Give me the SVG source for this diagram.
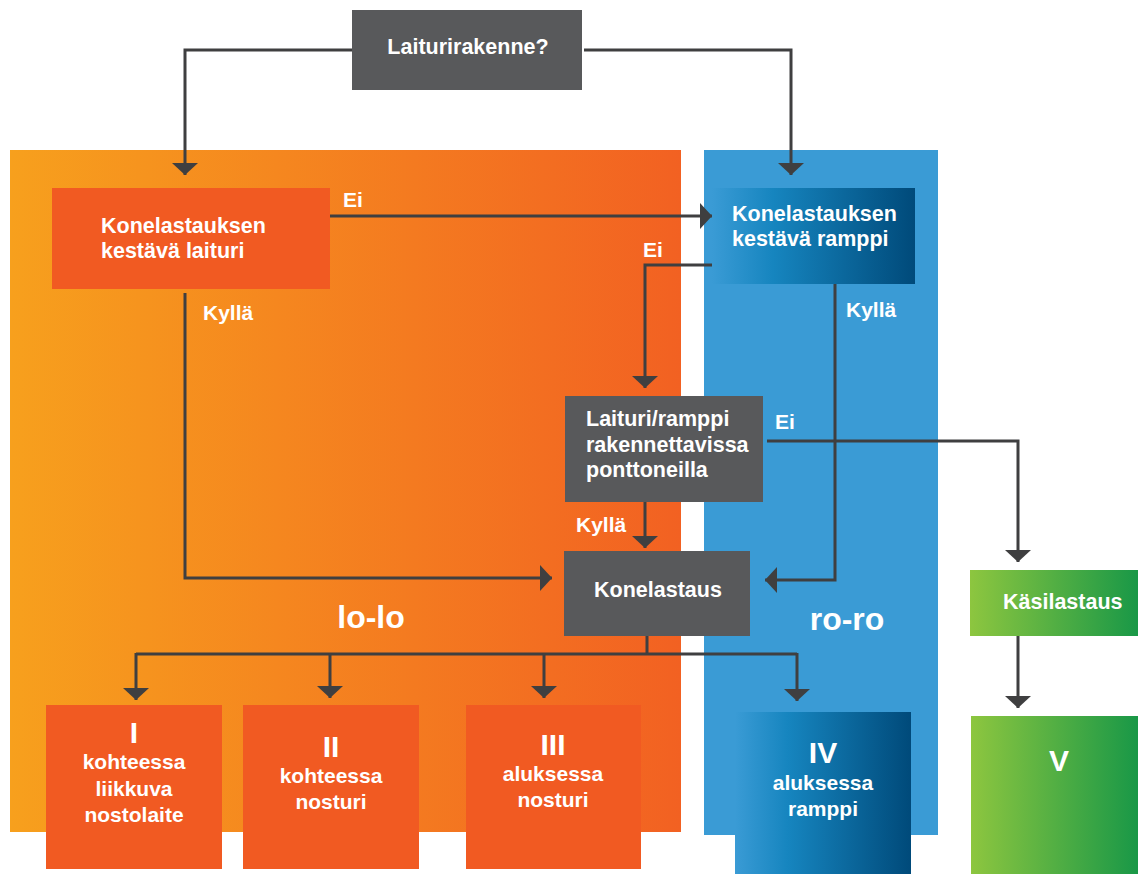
<svg xmlns="http://www.w3.org/2000/svg" width="1138" height="874" viewBox="0 0 1138 874">
<defs>
<linearGradient id="gOrange" x1="0" y1="0" x2="1" y2="0">
<stop offset="0" stop-color="#F7A01D"/>
<stop offset="1" stop-color="#F26122"/>
</linearGradient>
<linearGradient id="gBlue" x1="0" y1="0" x2="1" y2="0">
<stop offset="0" stop-color="#3A9BD5"/>
<stop offset="0.3" stop-color="#1685BF"/>
<stop offset="1" stop-color="#004A7A"/>
</linearGradient>
<linearGradient id="gGreen" x1="0" y1="0" x2="1" y2="0">
<stop offset="0" stop-color="#8DC63F"/>
<stop offset="1" stop-color="#199847"/>
</linearGradient>
<marker id="arr" viewBox="0 0 12 26" refX="12" refY="13" markerWidth="12" markerHeight="26" markerUnits="userSpaceOnUse" orient="auto">
<path d="M0,0 L12,13 L0,26 Z" fill="#3F3F40"/>
</marker>
<style>
.t{font-family:"Liberation Sans",Arial,sans-serif;font-weight:bold;fill:#FFFFFF;font-size:21px}
.n{font-size:21.5px}
.big{font-size:30px}
.zone{font-size:32px}
.c{text-anchor:middle}
.ln{fill:none;stroke:#3F3F40;stroke-width:3}
.gray{fill:#58595B}
.or{fill:#F15A22}
</style>
</defs>
<g id="zone-lolo">
<rect x="10" y="150" width="671" height="682" fill="url(#gOrange)"/>
<text class="t zone c" x="371" y="628">lo-lo</text>
</g>
<g id="zone-roro">
<rect x="704" y="150" width="234" height="685" fill="#3A9BD5"/>
<text class="t zone c" x="847" y="630">ro-ro</text>
</g>
<g id="connectors">
<path class="ln" d="M352,50 H185 V175" marker-end="url(#arr)"/>
<path class="ln" d="M584,50 H791 V175" marker-end="url(#arr)"/>
<path class="ln" d="M330,216 H712" marker-end="url(#arr)"/>
<path class="ln" d="M185,293 V578 H552" marker-end="url(#arr)"/>
<path class="ln" d="M719,265 H645 V388" marker-end="url(#arr)"/>
<path class="ln" d="M835,284 V580 H765" marker-end="url(#arr)"/>
<path class="ln" d="M767,441 H1018 V562" marker-end="url(#arr)"/>
<path class="ln" d="M645,502 V548" marker-end="url(#arr)"/>
<path class="ln" d="M647,636 V654"/>
<path class="ln" d="M136,654 H797"/>
<path class="ln" d="M136,653 V700" marker-end="url(#arr)"/>
<path class="ln" d="M330,653 V698" marker-end="url(#arr)"/>
<path class="ln" d="M544,653 V698" marker-end="url(#arr)"/>
<path class="ln" d="M797,653 V701" marker-end="url(#arr)"/>
<path class="ln" d="M1018,636 V708" marker-end="url(#arr)"/>
<text class="t" x="343" y="207">Ei</text>
<text class="t" x="203" y="320">Kyllä</text>
<text class="t" x="643" y="257">Ei</text>
<text class="t" x="846" y="317">Kyllä</text>
<text class="t" x="775" y="429">Ei</text>
<text class="t" x="576" y="532">Kyllä</text>
</g>
<g id="node-laiturirakenne">
<rect class="gray" x="352" y="10" width="230" height="80"/>
<text class="t n c" x="468" y="54">Laiturirakenne?</text>
</g>
<g id="node-laituri">
<rect class="or" x="52" y="188" width="278" height="101"/>
<text class="t n" x="101" y="233">Konelastauksen</text>
<text class="t n" x="101" y="258">kestävä laituri</text>
</g>
<g id="node-ramppi">
<rect x="712" y="188" width="203" height="96" fill="url(#gBlue)"/>
<text class="t n" x="732" y="221">Konelastauksen</text>
<text class="t n" x="732" y="246">kestävä ramppi</text>
</g>
<g id="node-ponttoni">
<rect class="gray" x="565" y="396" width="198" height="106"/>
<text class="t n" x="586" y="426">Laituri/ramppi</text>
<text class="t n" x="586" y="452">rakennettavissa</text>
<text class="t n" x="586" y="477">ponttoneilla</text>
</g>
<g id="node-konelastaus">
<rect class="gray" x="564" y="551" width="186" height="85"/>
<text class="t n c" x="658" y="597">Konelastaus</text>
</g>
<g id="node-kasilastaus">
<rect x="970" y="570" width="168" height="66" fill="url(#gGreen)"/>
<text class="t n" x="1003" y="609">Käsilastaus</text>
</g>
<g id="node-I">
<rect class="or" x="46" y="705" width="176" height="164"/>
<text class="t big c" x="134" y="743">I</text>
<text class="t c" x="134" y="769">kohteessa</text>
<text class="t c" x="134" y="796">liikkuva</text>
<text class="t c" x="134" y="822">nostolaite</text>
</g>
<g id="node-II">
<rect class="or" x="243" y="705" width="176" height="164"/>
<text class="t big c" x="331" y="757">II</text>
<text class="t c" x="331" y="783">kohteessa</text>
<text class="t c" x="331" y="809">nosturi</text>
</g>
<g id="node-III">
<rect class="or" x="466" y="705" width="175" height="164"/>
<text class="t big c" x="553" y="755">III</text>
<text class="t c" x="553" y="781">aluksessa</text>
<text class="t c" x="553" y="807">nosturi</text>
</g>
<g id="node-IV">
<rect x="735" y="712" width="176" height="162" fill="url(#gBlue)"/>
<text class="t big c" x="823" y="763">IV</text>
<text class="t c" x="823" y="790">aluksessa</text>
<text class="t c" x="823" y="816">ramppi</text>
</g>
<g id="node-V">
<rect x="971" y="716" width="167" height="158" fill="url(#gGreen)"/>
<text class="t big c" x="1059" y="771">V</text>
</g>
</svg>
